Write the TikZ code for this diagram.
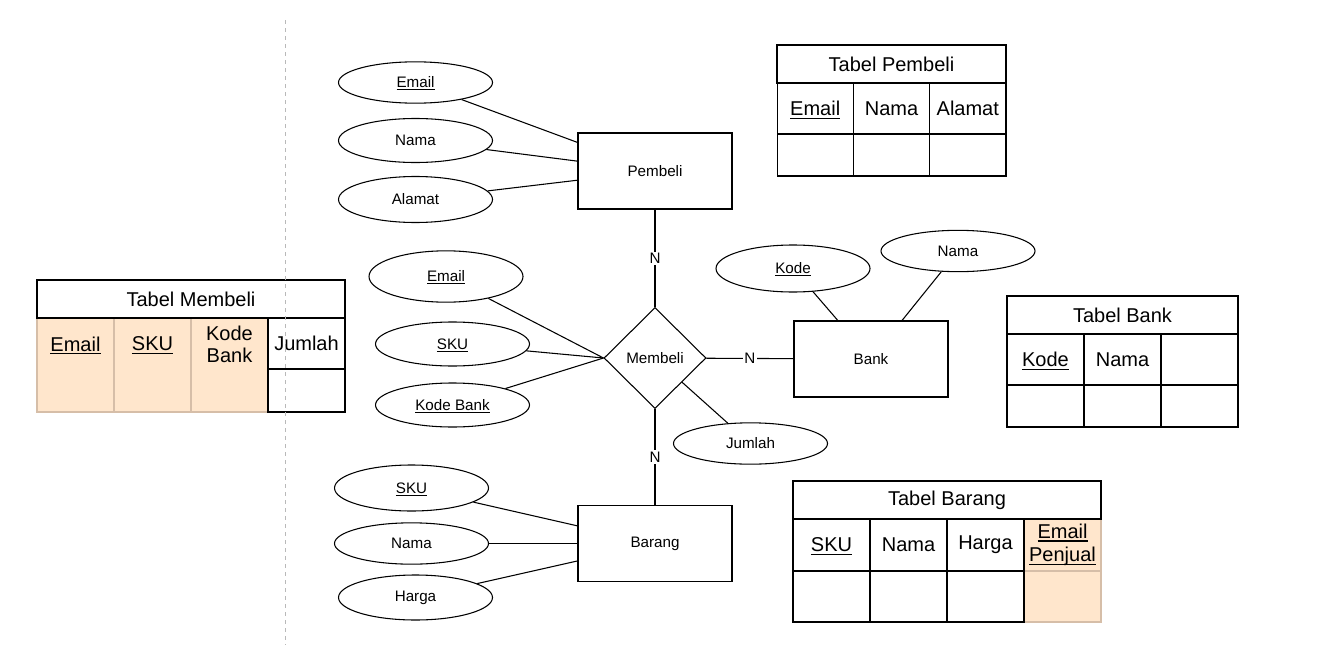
\documentclass[tikz,border=0pt]{standalone}
\usepackage{fontspec}
\setmainfont{Liberation Sans}
\usetikzlibrary{shapes.geometric}
\definecolor{keyorange}{HTML}{FFE6CC}
\definecolor{keyline}{RGB}{214,190,168}
\definecolor{guidegray}{RGB}{185,185,185}
\newcommand{\erfont}{\fontsize{11.4}{13.7}\selectfont}
\newcommand{\tabfont}{\fontsize{15}{17}\selectfont}
\newcommand{\keyattr}[1]{\setbox0\hbox{#1}\rlap{\smash{\rule[-0.16em]{\wd0}{0.065em}}}\box0}

\begin{document}
\begin{tikzpicture}[x=0.75pt, y=-0.75pt, line width=0.8pt,
  entity/.style={rectangle, draw, minimum width=115.5pt, minimum height=57pt, inner sep=0pt, font=\erfont},
  attr/.style={ellipse, draw, minimum width=115.5pt, minimum height=31pt, inner sep=0pt, font=\erfont},
  relation/.style={diamond, draw, aspect=1, minimum width=76.5pt, minimum height=75.75pt, inner sep=0pt, font=\erfont},
  cardlabel/.style={fill=white, inner sep=1pt, font=\erfont},
  cell/.style={rectangle, draw, minimum width=57.75pt, inner sep=0pt, align=center, font=\tabfont},
  headcell/.style={cell, minimum height=28.5pt},
  keycell/.style={cell, fill=keyorange, draw=keyline},
  guide/.style={guidegray, line width=0.6pt, dash pattern=on 3pt off 3pt}]
\useasboundingbox (0,0) rectangle (1328,653);

% Entities and relation
\node[entity] (pembeli) at (655,171) {Pembeli};
\node[relation] (membeli) at (655,358) {Membeli};
\node[entity] (bank) at (871,359) {Bank};
\node[entity] (barang) at (655,543.5) {Barang};

% Attributes of Pembeli
\node[attr] (pemail) at (415.5,82.5) {\keyattr{Email}};
\node[attr, minimum height=33pt] (pnama) at (415.5,140.5) {Nama};
\node[attr, minimum height=34.5pt] (palamat) at (415.5,199.5) {Alamat};

% Attributes of Membeli
\node[attr, minimum height=38.5pt] (memail) at (446,276.5) {\keyattr{Email}};
\node[attr, minimum height=33pt] (msku) at (452.5,344) {\keyattr{SKU}};
\node[attr, minimum height=33pt] (mkodebank) at (452.5,405) {\keyattr{Kode Bank}};
\node[attr] (mjumlah) at (750.5,443.5) {Jumlah};

% Attributes of Bank
\node[attr, minimum height=35.25pt] (bkode) at (793,268.5) {\keyattr{Kode}};
\node[attr] (bnama) at (958,251) {Nama};

% Attributes of Barang
\node[attr, minimum height=34.5pt] (bsku) at (411.5,488) {\keyattr{SKU}};
\node[attr] (bnamab) at (411.5,543.5) {Nama};
\node[attr, minimum height=33.75pt] (bharga) at (415.5,597.5) {Harga};

% Attribute links
\draw (pemail) -- (pembeli);
\draw (pnama) -- (pembeli);
\draw (palamat) -- (pembeli);
\draw (memail) -- (membeli.west);
\draw (msku) -- (membeli.west);
\draw (mkodebank) -- (membeli.west);
\draw (mjumlah) -- (membeli);
\draw (bkode) -- (bank);
\draw (bnama) -- (bank);
\draw (bsku) -- (barang);
\draw (bnamab) -- (barang);
\draw (bharga) -- (barang);

% Relationship links
\draw (pembeli) -- node[cardlabel] {N} (membeli);
\draw (membeli) -- node[cardlabel] {N} (bank);
\draw (membeli) -- node[cardlabel] {N} (barang);

% Tabel Pembeli
\node[headcell, minimum width=171.75pt] (tpembeli) at (891.5,64) {Tabel Pembeli};
\node[cell, minimum width=57.25pt, minimum height=38.25pt] (tpemail) at (815.2,108.5) {\keyattr{Email}};
\node[cell, minimum width=57.25pt, minimum height=38.25pt] (tpnama) at (891.5,108.5) {Nama};
\node[cell, minimum width=57.25pt, minimum height=38.25pt] (tpalamat) at (967.8,108.5) {Alamat};
\node[cell, minimum width=57.25pt, minimum height=31.5pt] (tpe1) at (815.2,155) {};
\node[cell, minimum width=57.25pt, minimum height=31.5pt] (tpe2) at (891.5,155) {};
\node[cell, minimum width=57.25pt, minimum height=31.5pt] (tpe3) at (967.8,155) {};

% Tabel Bank
\node[headcell, minimum width=173.25pt] (tbank) at (1122.5,315) {Tabel Bank};
\node[cell, minimum height=38.25pt] (tbkode) at (1045.5,359.5) {\keyattr{Kode}};
\node[cell, minimum height=38.25pt] (tbnama) at (1122.5,359.5) {Nama};
\node[cell, minimum height=38.25pt] (tbe0) at (1199.5,359.5) {};
\node[cell, minimum height=31.5pt] (tbe1) at (1045.5,406) {};
\node[cell, minimum height=31.5pt] (tbe2) at (1122.5,406) {};
\node[cell, minimum height=31.5pt] (tbe3) at (1199.5,406) {};

% Tabel Barang
\node[keycell, minimum height=39pt, font=\fontsize{15}{17.5}\selectfont] (tbrpenjual) at (1062.5,545) {\keyattr{Email}\\\keyattr{Penjual}};
\node[keycell, minimum height=38.25pt] (tbre4) at (1062.5,596.5) {};
\node[headcell, minimum width=231pt] (tbarang) at (947,500) {Tabel Barang};
\node[cell, minimum height=39pt] (tbrsku) at (831.5,545) {\keyattr{SKU}};
\node[cell, minimum height=39pt] (tbrnama) at (908.5,545) {Nama};
\node[cell, minimum height=39pt] (tbrharga) at (985.5,545) {Harga};
\node[cell, minimum height=38.25pt] (tbre1) at (831.5,596.5) {};
\node[cell, minimum height=38.25pt] (tbre2) at (908.5,596.5) {};
\node[cell, minimum height=38.25pt] (tbre3) at (985.5,596.5) {};

% Tabel Membeli
\node[keycell, minimum height=70.5pt] (tmk1) at (75.5,365) {};
\node[keycell, minimum height=70.5pt] (tmk2) at (152.5,365) {};
\node[keycell, minimum height=70.5pt] (tmk3) at (229.5,365) {};
\node[font=\tabfont] (tmemail) at (75.5,344) {\keyattr{Email}};
\node[font=\tabfont] (tmsku) at (152.5,344) {\keyattr{SKU}};
\node[font=\fontsize{15}{16.5}\selectfont, align=center] (tmkodebank) at (229.5,344) {Kode\\Bank};
\node[headcell, minimum width=231pt] (tmembeli) at (191,299) {Tabel Membeli};
\node[cell, minimum height=38.25pt] (tmjumlah) at (306.5,343.5) {Jumlah};
\node[cell, minimum height=32.25pt] (tme1) at (306.5,390.5) {};

% Divider
\coordinate (guidetop) at (285,20);
\coordinate (guidebot) at (285,645);
\draw[guide] (guidetop) -- (guidebot);
\end{tikzpicture}
\end{document}
